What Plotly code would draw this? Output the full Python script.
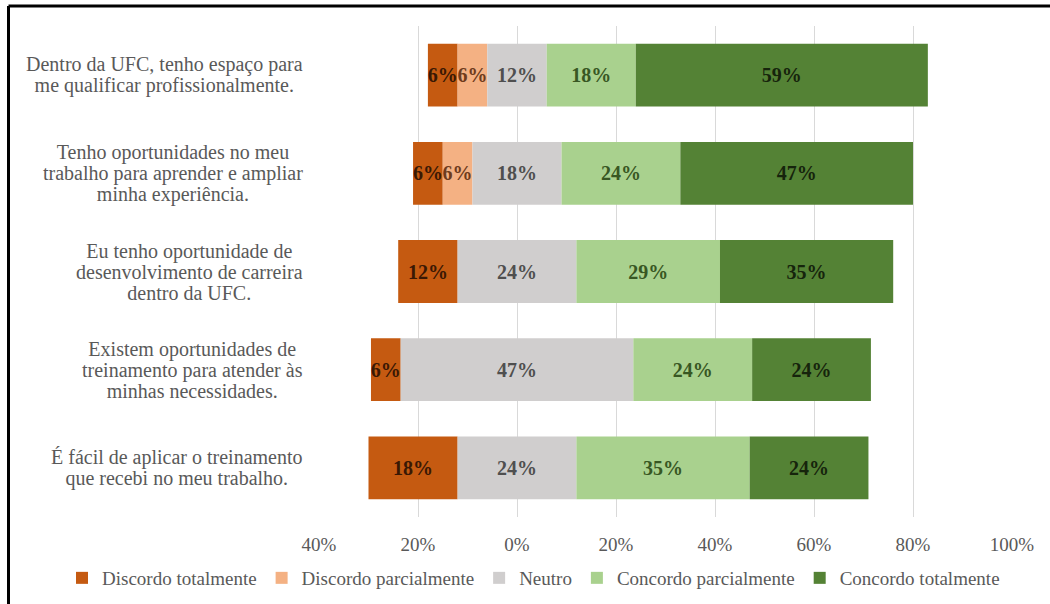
import numpy as np
import plotly.graph_objects as go

# Survey statements (one list entry per displayed line)
statements = [
    ["Dentro da UFC, tenho espaço para", "me qualificar profissionalmente."],
    ["Tenho oportunidades no meu", "trabalho para aprender e ampliar", "minha experiência."],
    ["Eu tenho oportunidade de", "desenvolvimento de carreira", "dentro da UFC."],
    ["Existem oportunidades de", "treinamento para atender às", "minhas necessidades."],
    ["É fácil de aplicar o treinamento", "que recebi no meu trabalho."],
]

# Response shares (%) per statement
discordo_total = [6, 6, 12, 6, 18]
discordo_parcial = [6, 6, 0, 0, 0]
neutro = [12, 18, 24, 47, 24]
concordo_parcial = [18, 24, 29, 24, 35]
concordo_total = [59, 47, 35, 24, 24]

series_names = [
    "Discordo totalmente",
    "Discordo parcialmente",
    "Neutro",
    "Concordo parcialmente",
    "Concordo totalmente",
]
bar_colors = ["#C55A11", "#F4B183", "#D0CECE", "#A9D18E", "#548235"]
label_colors = ["#3A1804", "#6E3B1C", "#4F4F4F", "#385723", "#16240C"]

tick_values = [-40, -20, 0, 20, 40, 60, 80, 100]
tick_labels = ["40%", "20%", "0%", "20%", "40%", "60%", "80%", "100%"]

SERIF = "Liberation Serif, Times New Roman, serif"
GREY_TEXT = "#595959"

# Plot-area geometry in pixels
L, T, W, H = 319, 26, 693, 491

keys = [" ".join(lines) for lines in statements]

# Diverging layout: the neutral block is centred on zero,
# disagreement stacks to the left, agreement to the right.
dt = np.array(discordo_total, dtype=float)
dp = np.array(discordo_parcial, dtype=float)
nt = np.array(neutro, dtype=float)
cp = np.array(concordo_parcial, dtype=float)
ct = np.array(concordo_total, dtype=float)

widths = [dt, dp, nt, cp, ct]
bases = [
    -nt / 2 - dp - dt,
    -nt / 2 - dp,
    -nt / 2,
    nt / 2,
    nt / 2 + cp,
]

fig = go.Figure()
for name, w, b, col, lcol in zip(series_names, widths, bases, bar_colors, label_colors):
    fig.add_trace(
        go.Bar(
            name=name,
            y=keys,
            x=w,
            base=b,
            orientation="h",
            width=0.64,
            marker=dict(color=col, line=dict(width=0)),
            text=[f"{int(v)}%" if v > 0 else "" for v in w],
            textposition="inside",
            insidetextanchor="middle",
            textangle=0,
            constraintext="none",
            textfont=dict(family=SERIF, size=20, color=lcol, weight="bold"),
            cliponaxis=False,
        )
    )

# Statement labels, right-aligned block with centred lines
for key, lines in zip(keys, statements):
    txt = "<br>".join(f"<span style='font-size:20px'>{ln}</span>" for ln in lines)
    fig.add_annotation(
        x=0,
        xref="paper",
        y=key,
        yref="y",
        xanchor="right",
        yanchor="middle",
        xshift=-14,
        align="center",
        showarrow=False,
        text=txt,
        font=dict(family=SERIF, size=16, color=GREY_TEXT),
    )

# Frame lines along the top and left edges of the figure
def px_x(px):
    return (px - L) / W


def px_y(py):
    return (T + H - py) / H


fig.add_shape(type="line", xref="paper", yref="paper",
              x0=px_x(8.5), x1=px_x(1050), y0=px_y(6), y1=px_y(6),
              line=dict(color="#000000", width=3))
fig.add_shape(type="line", xref="paper", yref="paper",
              x0=px_x(8.5), x1=px_x(8.5), y0=px_y(6), y1=px_y(610),
              line=dict(color="#000000", width=3))

fig.update_layout(
    width=1050,
    height=604,
    margin=dict(l=L, r=1050 - L - W, t=T, b=604 - T - H, autoexpand=False),
    barmode="overlay",
    plot_bgcolor="white",
    paper_bgcolor="white",
    font=dict(family=SERIF, size=19, color=GREY_TEXT),
    showlegend=True,
    legend=dict(
        orientation="h",
        x=px_x(62),
        xanchor="left",
        y=px_y(578),
        yanchor="middle",
        font=dict(family=SERIF, size=19, color=GREY_TEXT),
        traceorder="normal",
        itemwidth=30,
        bgcolor="rgba(0,0,0,0)",
    ),
    xaxis=dict(
        range=[-40, 100],
        tickvals=tick_values,
        ticktext=tick_labels,
        showgrid=True,
        gridcolor="#D9D9D9",
        gridwidth=1,
        zeroline=False,
        showline=False,
        ticks="",
        ticklabelstandoff=14,
        tickfont=dict(family=SERIF, size=19, color=GREY_TEXT),
        fixedrange=True,
    ),
    yaxis=dict(
        type="category",
        categoryorder="array",
        categoryarray=keys,
        autorange="reversed",
        showticklabels=False,
        showgrid=False,
        zeroline=False,
        showline=False,
        ticks="",
        fixedrange=True,
    ),
)

fig.write_html("out.html")
